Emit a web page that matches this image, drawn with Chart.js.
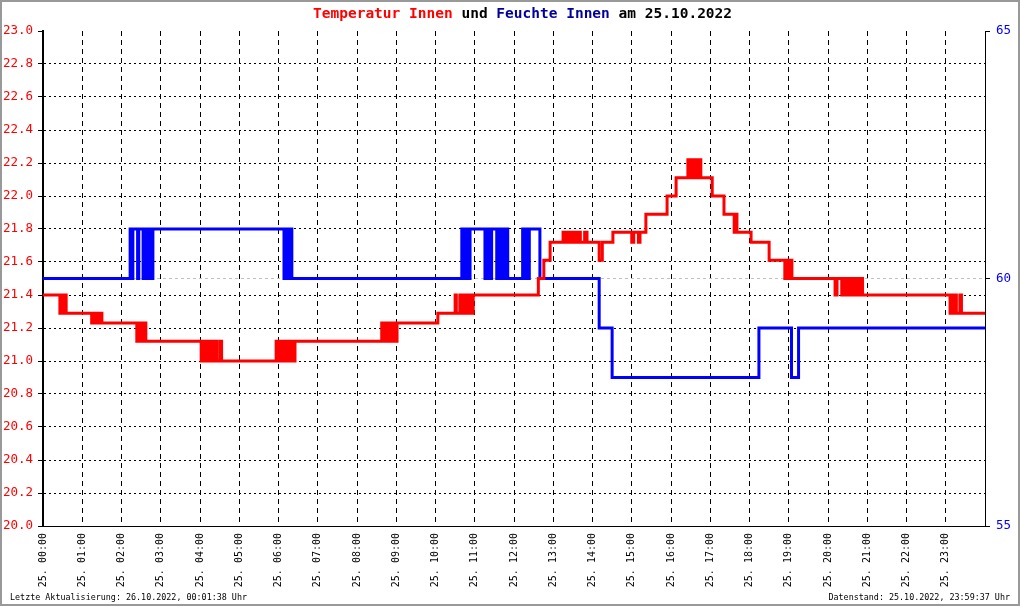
<!DOCTYPE html>
<html><head><meta charset="utf-8">
<script src="https://cdn.jsdelivr.net/npm/chart.js@4/dist/chart.umd.min.js"></script>
<style>
html,body{margin:0;padding:0;background:#fff;}
#wrap{position:relative;width:1020px;height:606px;overflow:hidden;background:#fff;}
#c{position:absolute;left:0;top:0;}
#frame{position:absolute;left:0;top:0;width:1020px;height:606px;box-sizing:border-box;border:2px solid #999;pointer-events:none;}
#title{position:absolute;left:313px;top:5px;font-family:"DejaVu Sans Mono",monospace;font-weight:bold;font-size:14.5px;line-height:16px;white-space:pre;color:#000;}
.foot{position:absolute;top:592px;font-family:"DejaVu Sans Mono",monospace;font-size:8.4px;line-height:10px;white-space:pre;color:#000;}
</style></head>
<body>
<div id="wrap">
<canvas id="c" width="1020" height="606"></canvas>
<div id="title"><span style="color:#ff0000">Temperatur Innen</span> und <span style="color:#00009c">Feuchte Innen</span> am 25.10.2022</div>
<div class="foot" style="left:10px">Letzte Aktualisierung: 26.10.2022, 00:01:38 Uhr</div>
<div class="foot" style="right:10px">Datenstand: 25.10.2022, 23:59:37 Uhr</div>
<div id="frame"></div>
</div>
<script>
const hourLabels = ["25. 00:00","25. 01:00","25. 02:00","25. 03:00","25. 04:00","25. 05:00","25. 06:00","25. 07:00","25. 08:00","25. 09:00","25. 10:00","25. 11:00","25. 12:00","25. 13:00","25. 14:00","25. 15:00","25. 16:00","25. 17:00","25. 18:00","25. 19:00","25. 20:00","25. 21:00","25. 22:00","25. 23:00"];

const tempTimes = [0,0.43,0.47,0.53,0.56,0.59,1.24,1.29,1.33,1.37,1.41,1.45,1.50,2.39,2.43,2.47,2.51,2.55,2.59,2.62,4.03,4.07,4.11,4.15,4.19,4.23,4.27,4.31,4.35,4.40,4.44,4.52,4.55,5.94,5.98,6.02,6.06,6.10,6.14,6.18,6.22,6.27,6.32,6.35,6.39,6.42,8.63,8.67,8.71,8.75,8.79,8.83,8.87,8.91,8.95,8.99,9.02,10.06,10.50,10.53,10.62,10.66,10.70,10.74,10.78,10.82,10.86,10.90,10.96,12.62,12.76,12.92,13.25,13.29,13.33,13.37,13.41,13.45,13.49,13.53,13.57,13.61,13.65,13.69,13.80,13.86,14.17,14.25,14.52,15.00,15.05,15.17,15.21,15.36,15.90,16.13,16.43,16.47,16.51,16.55,16.59,16.63,16.67,16.71,16.74,16.76,17.05,17.35,17.61,17.65,17.68,18.04,18.50,18.90,18.93,19.00,19.04,19.08,20.18,20.23,20.35,20.39,20.43,20.47,20.51,20.55,20.59,20.63,20.67,20.71,20.75,20.79,20.83,20.86,20.88,23.11,23.15,23.19,23.23,23.27,23.36,23.40,24];
const tempValues = [21.4,21.29,21.4,21.29,21.4,21.29,21.23,21.29,21.23,21.29,21.23,21.29,21.23,21.12,21.23,21.12,21.23,21.12,21.23,21.12,21.0,21.12,21.0,21.12,21.0,21.12,21.0,21.12,21.0,21.12,21.0,21.12,21.0,21.12,21.0,21.12,21.0,21.12,21.0,21.12,21.0,21.12,21.0,21.12,21.0,21.12,21.23,21.12,21.23,21.12,21.23,21.12,21.23,21.12,21.23,21.12,21.23,21.29,21.4,21.29,21.4,21.29,21.4,21.29,21.4,21.29,21.4,21.29,21.4,21.5,21.61,21.72,21.78,21.72,21.78,21.72,21.78,21.72,21.78,21.72,21.78,21.72,21.78,21.72,21.78,21.72,21.61,21.72,21.78,21.72,21.78,21.72,21.78,21.89,22.0,22.11,22.22,22.11,22.22,22.11,22.22,22.11,22.22,22.11,22.22,22.11,22.0,21.89,21.78,21.89,21.78,21.72,21.61,21.5,21.61,21.5,21.61,21.5,21.4,21.5,21.4,21.5,21.4,21.5,21.4,21.5,21.4,21.5,21.4,21.5,21.4,21.5,21.4,21.5,21.4,21.29,21.4,21.29,21.4,21.29,21.4,21.29,21.29];

const humTimes = [0,2.22,2.25,2.29,2.41,2.44,2.55,2.58,2.62,2.66,2.70,2.74,2.78,2.80,6.14,6.17,6.20,6.23,6.26,6.30,6.34,10.67,10.71,10.75,10.79,10.83,10.86,10.88,11.26,11.30,11.34,11.38,11.41,11.43,11.56,11.60,11.64,11.68,11.72,11.77,11.84,12.22,12.26,12.30,12.34,12.39,12.66,14.17,14.50,18.24,19.07,19.25,24];
const humValues = [60,61,60,61,60,61,60,61,60,61,60,61,60,61,60,61,60,61,60,61,60,61,60,61,60,61,60,61,60,61,60,61,60,61,60,61,60,61,60,61,60,61,60,61,60,61,60,59,58,59,58,59,59];

const leftTicks = {min:20, max:23, step:0.2};
const rightTicks = {min:55, max:65, step:5};

const tempData = tempTimes.map((t,i)=>({x:t,y:tempValues[i]}));
const humData = humTimes.map((t,i)=>({x:t,y:humValues[i]}));

const monoFont = "'DejaVu Sans Mono', monospace";

new Chart(document.getElementById('c'), {
  type:'line',
  data:{datasets:[
    {label:'Temperatur Innen', data:tempData, yAxisID:'y', borderColor:'#ff0000', backgroundColor:'#ff0000', borderWidth:3, pointRadius:0, stepped:true, fill:false},
    {label:'Feuchte Innen', data:humData, yAxisID:'y2', borderColor:'#0000ff', backgroundColor:'#0000ff', borderWidth:3, pointRadius:0, stepped:true, fill:false}
  ]},
  options:{
    responsive:false, animation:false, devicePixelRatio:1,
    layout:{padding:{top:31,left:0,right:0,bottom:0}},
    plugins:{legend:{display:false}, tooltip:{enabled:false}, title:{display:false}},
    scales:{
      x:{type:'linear', min:0, max:24, position:'bottom',
        afterFit:(s)=>{s.height=80;},
        ticks:{stepSize:1, autoSkip:false, minRotation:90, maxRotation:90, padding:7, color:'#000',
          font:{family:monoFont, size:10},
          callback:(v)=> (v>=0 && v<24) ? hourLabels[Math.round(v)] : ''},
        grid:{color:'#000', lineWidth:1, drawTicks:false},
        border:{display:true, color:'#000', width:1, dash:[5,4]}
      },
      y:{type:'linear', position:'left', min:leftTicks.min, max:leftTicks.max,
        afterFit:(s)=>{s.width=43;},
        ticks:{stepSize:leftTicks.step, padding:5, color:'#ff0000', font:{family:monoFont, size:12.5},
          callback:(v)=>Number(v).toFixed(1)},
        grid:{color:(c)=> (c.tick && Math.abs(c.tick.value-23)<1e-6) ? 'rgba(0,0,0,0)' : '#000',
          lineWidth:1, drawTicks:true, tickLength:5, tickColor:'#000', tickBorderDash:[], tickWidth:1},
        border:{display:true, color:'#000', width:2, dash:[2,3]}
      },
      y2:{type:'linear', position:'right', min:rightTicks.min, max:rightTicks.max,
        afterFit:(s)=>{s.width=35;},
        ticks:{stepSize:rightTicks.step, padding:6, color:'#0000ff', font:{family:monoFont, size:12.5}},
        grid:{color:(c)=> (c.tick && c.tick.value===60) ? '#c0c0c0' : 'rgba(0,0,0,0)',
          lineWidth:1, drawTicks:true, tickLength:5, tickColor:'#000', tickBorderDash:[], tickWidth:1},
        border:{display:true, color:'#000', width:1, dash:[3,3]}
      }
    }
  }
});
</script>
</body></html>
